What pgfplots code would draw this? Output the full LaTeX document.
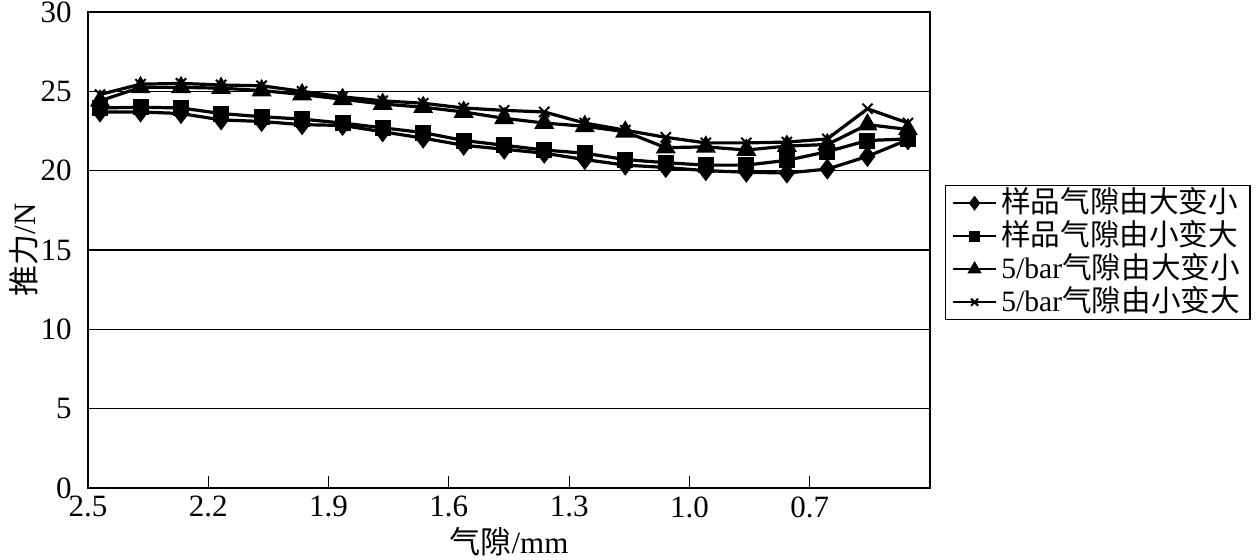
\documentclass[border=0pt]{standalone}
\usepackage{fontspec}
\setmainfont{Liberation Serif}
\newfontfamily\cjk{Noto Sans CJK SC}
\usepackage{pgfplots}
\pgfplotsset{compat=1.18}
\usepackage{pgfplotstable}

\pgfplotstableread{
x     a      b      c      d
2.470 23.70  23.95  24.40  24.80
2.369 23.70  24.00  25.25  25.45
2.268 23.60  23.95  25.25  25.50
2.168 23.20  23.60  25.20  25.40
2.067 23.10  23.40  25.05  25.35
1.966 22.90  23.25  24.80  25.00
1.865 22.85  23.00  24.50  24.65
1.765 22.45  22.70  24.20  24.40
1.664 22.05  22.40  24.00  24.25
1.563 21.60  21.90  23.70  23.95
1.462 21.35  21.60  23.30  23.80
1.362 21.10  21.30  23.00  23.70
1.261 20.70  21.10  22.80  23.00
1.160 20.35  20.70  22.45  22.55
1.059 20.20  20.50  21.45  22.10
0.959 20.00  20.35  21.50  21.75
0.858 19.90  20.35  21.30  21.75
0.757 19.85  20.65  21.55  21.80
0.656 20.10  21.20  21.65  22.00
0.556 20.90  21.90  22.90  23.90
0.455 21.95  22.00  22.60  23.00
}\datatable

\begin{document}
\fontsize{15pt}{18pt}\selectfont
\begin{tikzpicture}
\useasboundingbox (-44pt,-36pt) rectangle (584.5pt,244pt);
\begin{axis}[
  at={(0,0)}, anchor=south west,
  scale only axis, width=421pt, height=238pt,
  x dir=reverse, xmin=0.4, xmax=2.5,
  ymin=0, ymax=30,
  xtick={2.5,2.2,1.9,1.6,1.3,1.0,0.7},
  xticklabels={2.5,2.2,1.9,1.6,1.3,1.0,0.7},
  ytick={0,5,10,15,20,25,30},
  yticklabels={0,5,10,15,20,25,30},
  xtick pos=bottom, ytick pos=left,
  tick align=inside,
  major tick length=6pt,
  xtick style={black, line width=0.6pt},
  ytick style={draw=none},
  ymajorgrids, grid style={black, line width=0.75pt},
  axis line style={black, line width=0.75pt},
  tick label style={font=\fontsize{15.5pt}{18pt}\selectfont},
  xticklabel style={yshift=1pt},
  yticklabel style={xshift=-3pt},
  xlabel={{\cjk 气隙}/mm},
  ylabel={{\cjk 推力}/N},
  label style={font=\fontsize{15.5pt}{18pt}\selectfont},
  xlabel style={yshift=5pt},
  ylabel style={yshift=-9pt},
  every axis plot/.append style={black, line width=1.6pt},
  legend style={at={(1.0178,0.6366)}, anchor=north west, draw=black,
    line width=0.75pt, font=\fontsize{14.8pt}{15pt}\selectfont,
    inner xsep=3pt, inner ysep=0.5pt, row sep=0pt, cells={anchor=west},
    nodes={inner ysep=1pt, text height=12pt, text depth=2.5pt}},
  legend image code/.code={
    \draw[#1, line width=1.2pt, mark repeat=2, mark phase=2, mark size=0.7*\pgfplotmarksize]
      plot coordinates {(0cm,0cm) (0.38cm,0cm) (0.76cm,0cm)};},
]
\addplot[mark=diamond*, mark size=4pt, mark options={solid}] table[x=x,y=a] {\datatable};
\addlegendentry{\cjk 样品气隙由大变小}
\addplot[mark=square*, mark size=3.2pt] table[x=x,y=b] {\datatable};
\addlegendentry{\cjk 样品气隙由小变大}
\addplot[mark=triangle*, mark size=4.2pt] table[x=x,y=c] {\datatable};
\addlegendentry{5/bar{\cjk 气隙由大变小}}
\addplot[mark=x, mark size=3.6pt, mark options={line width=1pt}] table[x=x,y=d] {\datatable};
\addlegendentry{5/bar{\cjk 气隙由小变大}}
\end{axis}
\end{tikzpicture}
\end{document}
